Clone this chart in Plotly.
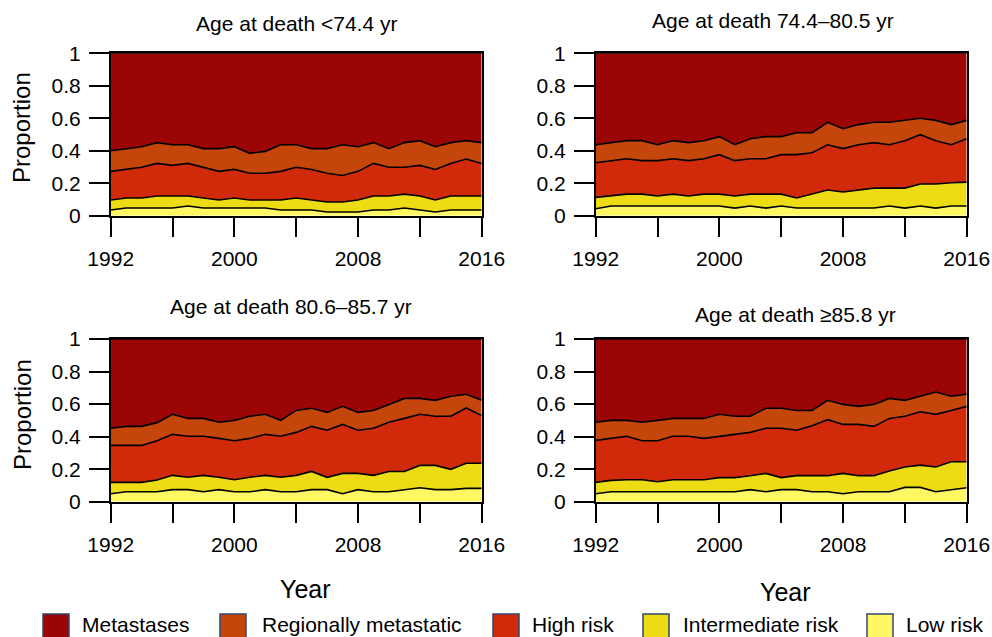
import plotly.graph_objects as go

years = list(range(1992, 2017))

categories = ["Metastases", "Regionally metastatic", "High risk", "Intermediate risk", "Low risk"]
colors = {"Metastases": "#9c0505", "Regionally metastatic": "#c4460a", "High risk": "#d12a0a",
          "Intermediate risk": "#eddb14", "Low risk": "#fff862"}

panel_titles = ["Age at death <74.4 yr", "Age at death 74.4–80.5 yr",
                "Age at death 80.6–85.7 yr", "Age at death ≥85.8 yr"]

# Cumulative upper edge of each stacked layer (proportion)
lt74_low = [0.035,0.047,0.047,0.047,0.047,0.060,0.047,0.047,0.047,0.047,0.047,0.035,0.035,0.035,0.023,0.023,0.023,0.035,0.035,0.047,0.035,0.023,0.035,0.035,0.035]
lt74_int = [0.097,0.109,0.109,0.121,0.121,0.121,0.109,0.097,0.109,0.097,0.097,0.097,0.109,0.097,0.084,0.084,0.097,0.121,0.121,0.133,0.121,0.097,0.121,0.121,0.121]
lt74_high = [0.273,0.285,0.298,0.322,0.310,0.322,0.298,0.273,0.285,0.261,0.261,0.273,0.298,0.285,0.261,0.248,0.273,0.322,0.298,0.298,0.310,0.285,0.322,0.349,0.322]
lt74_reg = [0.400,0.413,0.425,0.450,0.437,0.437,0.413,0.413,0.425,0.384,0.396,0.437,0.437,0.413,0.413,0.437,0.425,0.450,0.413,0.450,0.462,0.425,0.450,0.462,0.450]

a74_low = [0.043,0.060,0.060,0.060,0.060,0.060,0.060,0.060,0.060,0.047,0.060,0.047,0.060,0.047,0.047,0.047,0.047,0.047,0.047,0.060,0.047,0.060,0.047,0.060,0.060]
a74_int = [0.113,0.125,0.133,0.133,0.121,0.133,0.121,0.133,0.133,0.121,0.133,0.133,0.133,0.109,0.133,0.158,0.146,0.158,0.170,0.170,0.170,0.195,0.195,0.203,0.207]
a74_high = [0.326,0.339,0.351,0.339,0.339,0.351,0.339,0.351,0.376,0.339,0.351,0.351,0.376,0.376,0.388,0.437,0.413,0.437,0.450,0.437,0.462,0.499,0.462,0.437,0.474]
a74_reg = [0.437,0.450,0.462,0.462,0.437,0.462,0.450,0.462,0.487,0.437,0.474,0.487,0.487,0.511,0.511,0.575,0.536,0.561,0.575,0.575,0.587,0.600,0.587,0.561,0.587]

a80_low = [0.049,0.061,0.061,0.061,0.074,0.074,0.061,0.074,0.061,0.061,0.074,0.061,0.061,0.074,0.074,0.049,0.074,0.061,0.061,0.074,0.086,0.074,0.074,0.082,0.082]
a80_int = [0.119,0.119,0.119,0.133,0.162,0.150,0.162,0.150,0.135,0.150,0.162,0.150,0.162,0.186,0.150,0.174,0.174,0.162,0.186,0.186,0.223,0.223,0.199,0.236,0.236]
a80_high = [0.346,0.346,0.346,0.375,0.414,0.402,0.402,0.389,0.375,0.389,0.414,0.402,0.426,0.463,0.439,0.475,0.439,0.451,0.488,0.512,0.537,0.525,0.525,0.576,0.529]
a80_reg = [0.451,0.463,0.463,0.486,0.537,0.512,0.512,0.488,0.500,0.525,0.537,0.500,0.561,0.574,0.549,0.586,0.549,0.561,0.598,0.635,0.635,0.623,0.648,0.660,0.623]

ge86_low = [0.049,0.061,0.061,0.061,0.061,0.061,0.061,0.061,0.061,0.061,0.074,0.061,0.074,0.074,0.061,0.061,0.049,0.061,0.061,0.061,0.088,0.088,0.061,0.074,0.086]
ge86_int = [0.119,0.131,0.135,0.135,0.123,0.135,0.135,0.135,0.148,0.148,0.160,0.174,0.148,0.160,0.160,0.160,0.174,0.160,0.160,0.189,0.213,0.225,0.213,0.246,0.246]
ge86_high = [0.377,0.389,0.402,0.375,0.375,0.402,0.402,0.389,0.402,0.414,0.426,0.451,0.451,0.439,0.467,0.504,0.475,0.475,0.463,0.512,0.525,0.553,0.537,0.561,0.586]
ge86_reg = [0.488,0.500,0.500,0.488,0.500,0.512,0.512,0.512,0.537,0.525,0.525,0.574,0.574,0.561,0.561,0.623,0.598,0.586,0.598,0.635,0.623,0.648,0.674,0.648,0.660]

total = [1.0] * len(years)

panels = [
    (lt74_low, lt74_int, lt74_high, lt74_reg),
    (a74_low, a74_int, a74_high, a74_reg),
    (a80_low, a80_int, a80_high, a80_reg),
    (ge86_low, ge86_int, ge86_high, ge86_reg),
]

tick_years = [1992, 1996, 2000, 2004, 2008, 2012, 2016]
tick_text = ["1992", "", "2000", "", "2008", "", "2016"]
y_ticks = [0, 0.2, 0.4, 0.6, 0.8, 1]
y_text = ["0", "0.2", "0.4", "0.6", "0.8", "1"]

W, H = 992, 637
FONT = "Liberation Sans, Arial, sans-serif"

def px_x(v):
    return v / W

def px_y(v):
    return 1 - v / H

x_domains = [(px_x(110.7), px_x(481.7)), (px_x(595.7), px_x(966.7))]
y_domains = [(px_y(215.7), px_y(53.3)), (px_y(501.7), px_y(339))]

fig = go.Figure()
layout = {}
for i, (low, inter, high, reg) in enumerate(panels):
    n = i + 1
    xa = "x" if n == 1 else f"x{n}"
    ya = "y" if n == 1 else f"y{n}"
    series = [("Low risk", low, "tozeroy"), ("Intermediate risk", inter, "tonexty"),
              ("High risk", high, "tonexty"), ("Regionally metastatic", reg, "tonexty"),
              ("Metastases", total, "tonexty")]
    for name, vals, fill in series:
        fig.add_trace(go.Scatter(
            x=years, y=vals, mode="lines", name=name, fill=fill,
            fillcolor=colors[name], line=dict(color="black", width=1.6),
            xaxis=xa, yaxis=ya, showlegend=False, hoverinfo="skip"))
    col = i % 2
    row = i // 2
    layout["xaxis" if n == 1 else f"xaxis{n}"] = dict(
        domain=list(x_domains[col]), anchor=ya, range=[1992, 2016],
        tickmode="array", tickvals=tick_years, ticktext=tick_text,
        ticks="outside", ticklen=20, tickwidth=2, tickcolor="black",
        ticklabelstandoff=3,
        showline=True, linecolor="black", linewidth=1.5, mirror=True,
        showgrid=False, zeroline=False, automargin=False,
        tickfont=dict(family=FONT, size=21, color="black"))
    layout["yaxis" if n == 1 else f"yaxis{n}"] = dict(
        domain=list(y_domains[row]), anchor=xa, range=[0, 1],
        tickmode="array", tickvals=y_ticks, ticktext=y_text,
        ticks="outside", ticklen=20, tickwidth=2, tickcolor="black",
        ticklabelstandoff=4,
        showline=True, linecolor="black", linewidth=1.5, mirror=True,
        showgrid=False, zeroline=False, automargin=False,
        tickfont=dict(family=FONT, size=21, color="black"))

annotations = []
title_pos = [(296, 23), (773, 21), (291, 307), (795, 314)]
for t, (x, y) in zip(panel_titles, title_pos):
    annotations.append(dict(text=t, x=px_x(x), y=px_y(y), xref="paper", yref="paper",
                            showarrow=False, xanchor="center", yanchor="middle",
                            font=dict(family=FONT, size=21, color="black")))
for (x, y) in [(22, 128), (22, 415)]:
    annotations.append(dict(text="Proportion", x=px_x(x), y=px_y(y), xref="paper", yref="paper",
                            showarrow=False, textangle=-90, xanchor="center", yanchor="middle",
                            font=dict(family=FONT, size=24, color="black")))
for (x, y) in [(305, 589), (785, 592)]:
    annotations.append(dict(text="Year", x=px_x(x), y=px_y(y), xref="paper", yref="paper",
                            showarrow=False, xanchor="center", yanchor="middle",
                            font=dict(family=FONT, size=25, color="black")))

# Legend drawn as boxes + labels
legend_items = [("Metastases", 43, 80), ("Regionally metastatic", 220, 260), ("High risk", 493, 530),
                ("Intermediate risk", 643, 681), ("Low risk", 867, 904)]
shapes = []
for name, bx, tx in legend_items:
    shapes.append(dict(type="rect", xref="paper", yref="paper",
                       x0=px_x(bx), x1=px_x(bx + 26), y0=px_y(640), y1=px_y(614),
                       fillcolor=colors[name], line=dict(color="#34466e", width=1.5)))
    annotations.append(dict(text=name, x=px_x(tx), y=px_y(624), xref="paper", yref="paper",
                            showarrow=False, xanchor="left", yanchor="middle",
                            font=dict(family=FONT, size=21, color="black")))

fig.update_layout(
    width=W, height=H, margin=dict(l=0, r=0, t=0, b=0, pad=0, autoexpand=False),
    paper_bgcolor="white", plot_bgcolor="white",
    showlegend=False, annotations=annotations, shapes=shapes,
    font=dict(family=FONT, color="black"),
    **layout)

fig.write_html(
    "out.html",
    config={"displayModeBar": False},
    post_script="document.body.style.margin='0';document.body.style.overflow='hidden';",
)
